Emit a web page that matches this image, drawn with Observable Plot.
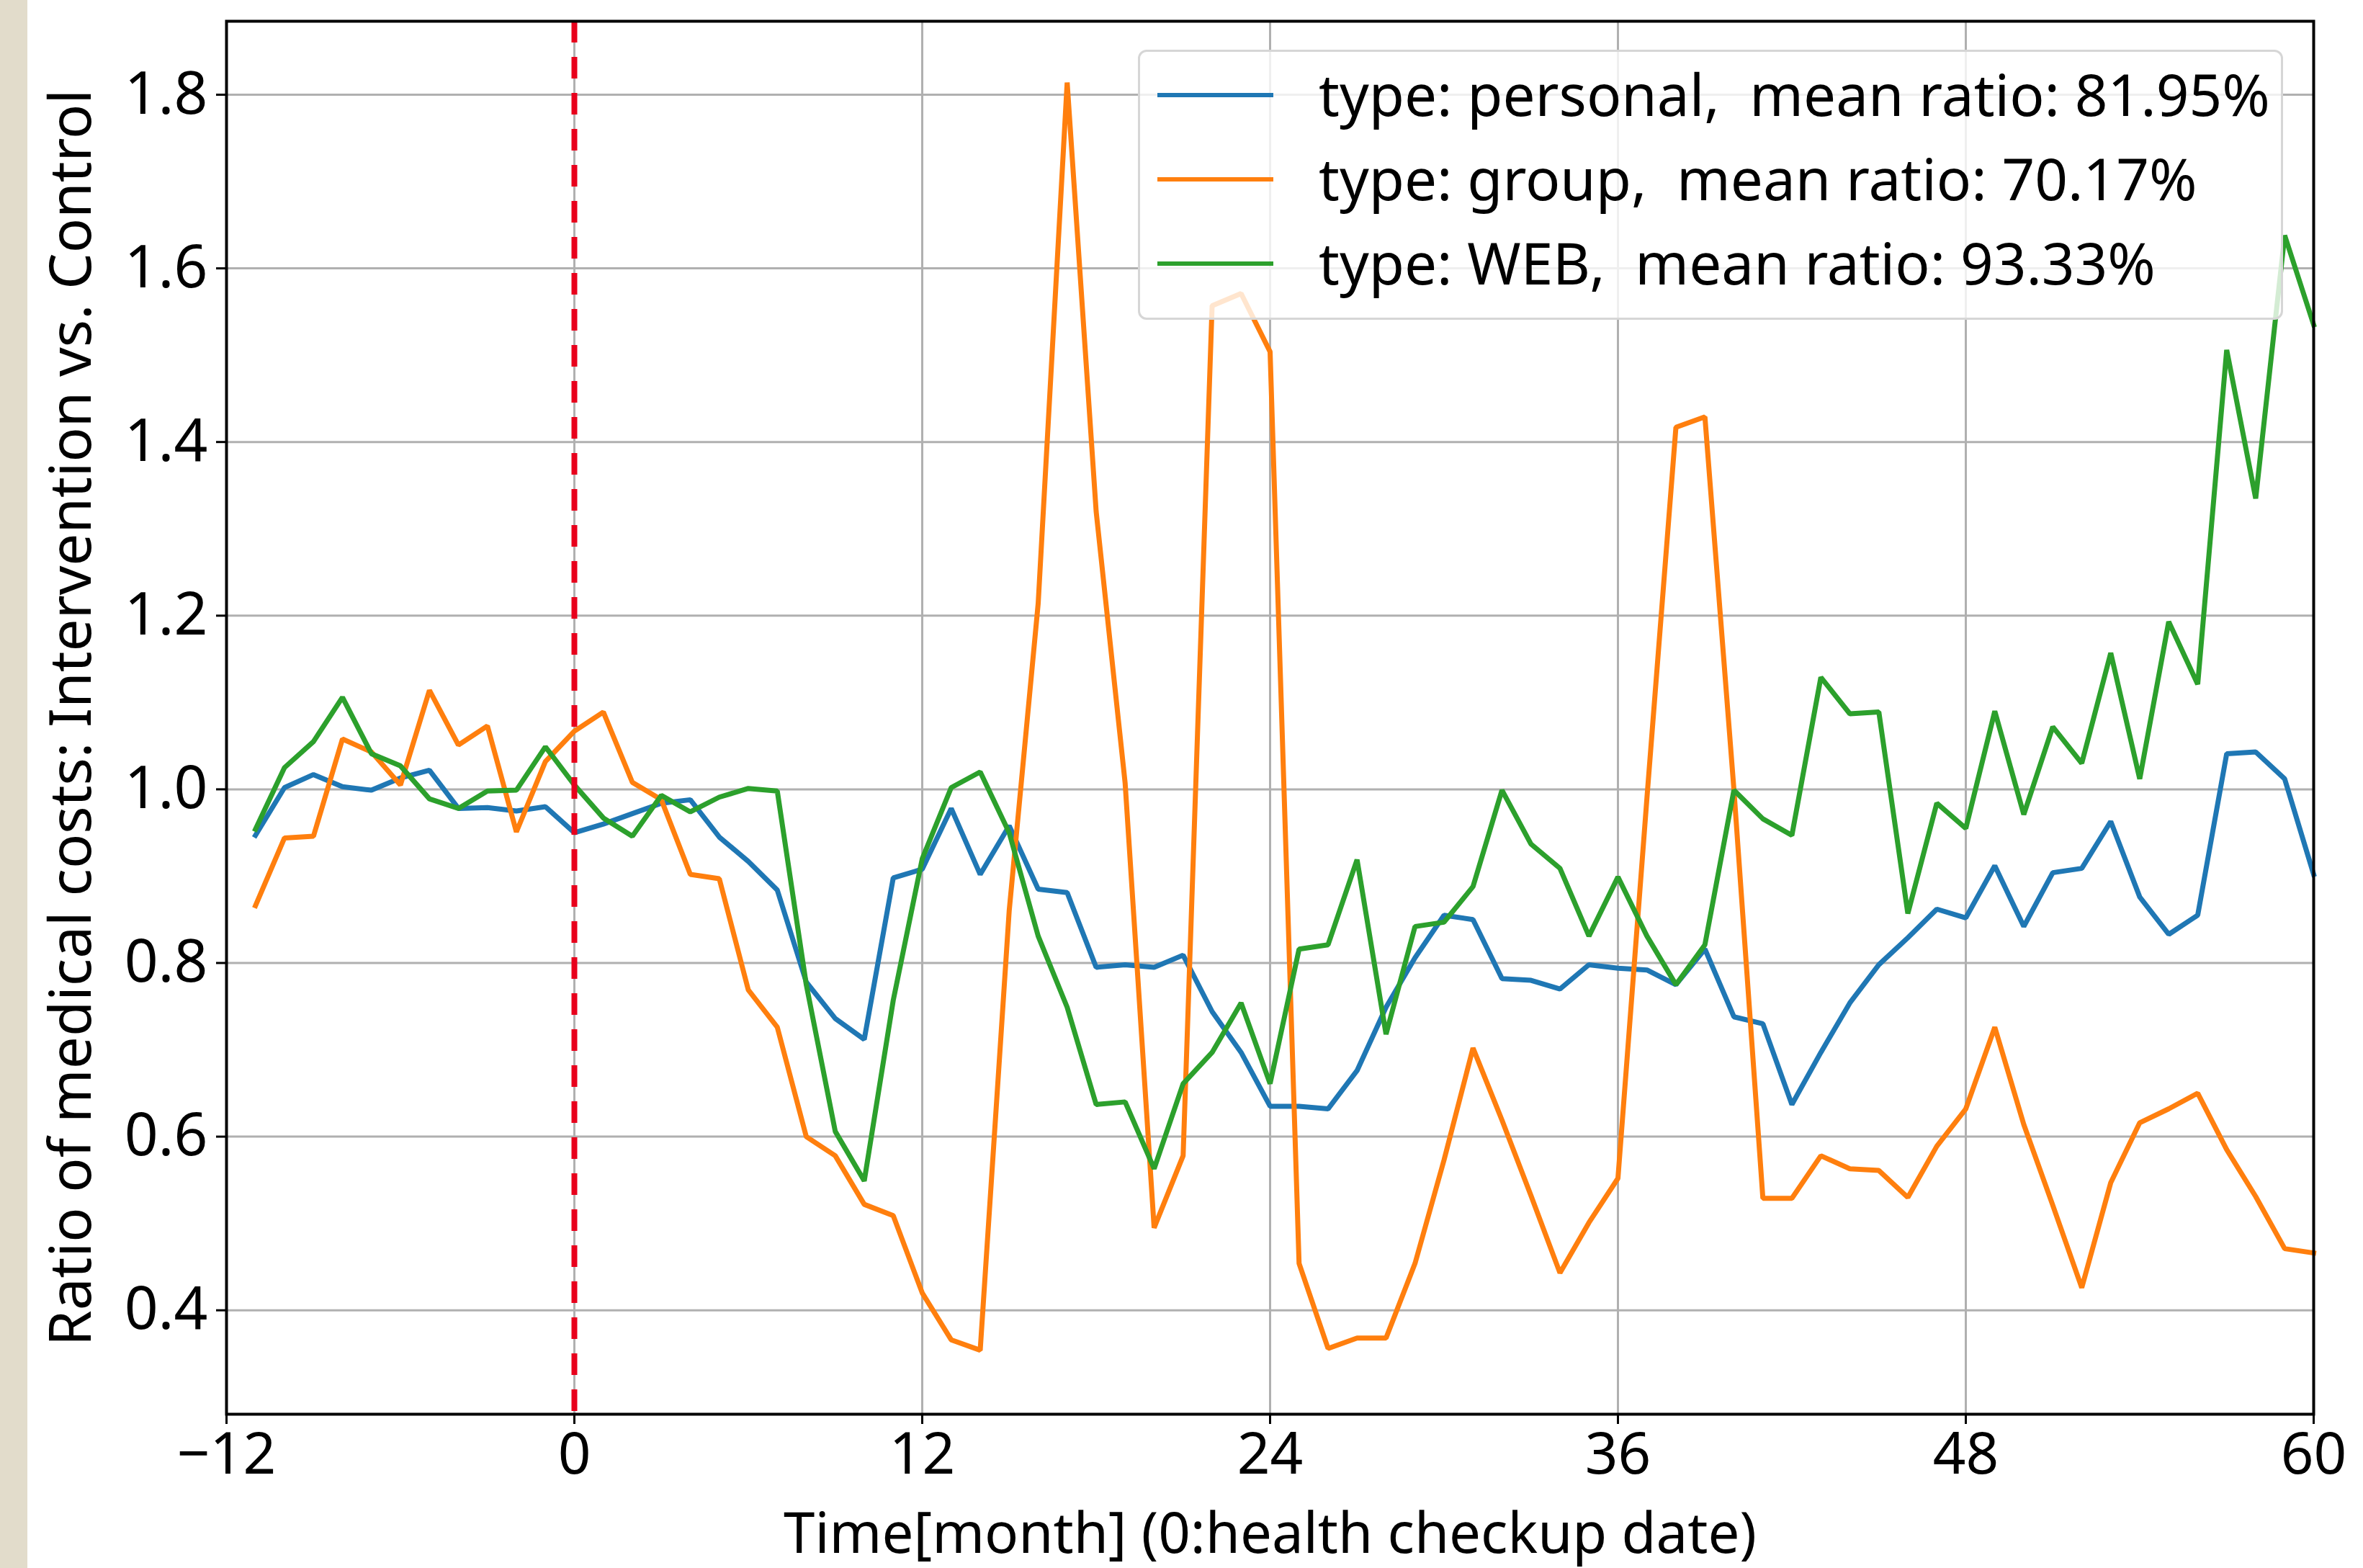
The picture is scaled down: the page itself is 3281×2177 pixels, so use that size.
<!DOCTYPE html>
<html>
<head>
<meta charset="utf-8">
<script src="https://cdn.jsdelivr.net/npm/d3@7"></script>
<script src="https://cdn.jsdelivr.net/npm/@observablehq/plot@0.6"></script>
<style>
  html, body { margin: 0; padding: 0; background: #ffffff; }
  #wrap { position: relative; width: 3281px; height: 2177px; overflow: hidden; font-family: "Noto Sans", sans-serif; }
  #strip { position: absolute; left: 0; top: 0; width: 38px; height: 2177px; background: #e2dccb; }
  #chart { position: absolute; left: 0; top: 0; }
  #legend { position: absolute; left: 1580px; top: 69px; width: 1590px; height: 375px; box-sizing: border-box;
            border: 3px solid #d6d6d6; border-radius: 12px; background: rgba(255,255,255,0.8); }
  .sw { position: absolute; left: 24px; width: 161px; height: 6px; }
  .lt { position: absolute; left: 248px; font-size: 80px; line-height: 1; white-space: pre; color: #000; transform: translateY(-52%); }
</style>
</head>
<body>
<div id="wrap">
  <div id="strip"></div>
  <div id="chart"></div>
  <div id="legend"></div>
</div>
<script>
// ---- data ----
const months = [-11,-10,-9,-8,-7,-6,-5,-4,-3,-2,-1,0,1,2,3,4,5,6,7,8,9,10,11,12,13,14,15,16,17,18,19,20,21,22,23,24,25,26,27,28,29,30,31,32,33,34,35,36,37,38,39,40,41,42,43,44,45,46,47,48,49,50,51,52,53,54,55,56,57,58,59,60];

const personal = [0.947,1.002,1.017,1.003,0.999,1.013,1.022,0.978,0.979,0.975,0.980,
  0.950,0.960,0.972,0.984,0.988,0.945,0.917,0.884,0.778,0.736,0.712,0.898,
  0.908,0.978,0.902,0.958,0.885,0.881,0.795,0.798,0.795,0.809,0.744,0.697,
  0.635,0.635,0.632,0.676,0.749,0.806,0.855,0.850,0.782,0.780,0.770,0.798,
  0.794,0.792,0.775,0.816,0.738,0.730,0.637,0.697,0.754,0.798,0.829,0.862,
  0.852,0.912,0.842,0.904,0.909,0.963,0.876,0.833,0.855,1.041,1.043,1.012,0.902];

const group = [0.866,0.944,0.946,1.058,1.043,1.005,1.114,1.051,1.073,0.951,1.032,
  1.067,1.089,1.008,0.988,0.902,0.897,0.769,0.726,0.600,0.578,0.522,0.509,
  0.420,0.366,0.354,0.860,1.214,1.814,1.320,1.007,0.495,0.578,1.557,1.571,
  1.504,0.454,0.356,0.368,0.368,0.454,0.573,0.702,0.619,0.532,0.443,0.501,
  0.552,0.990,1.417,1.429,1.000,0.529,0.529,0.578,0.563,0.561,0.530,0.589,
  0.632,0.726,0.614,0.521,0.426,0.547,0.616,0.632,0.650,0.585,0.531,0.471,0.466];

const web = [0.954,1.025,1.055,1.106,1.041,1.027,0.989,0.978,0.998,0.999,1.049,
  1.005,0.967,0.946,0.993,0.974,0.991,1.001,0.998,0.775,0.606,0.549,0.757,
  0.920,1.002,1.020,0.950,0.831,0.749,0.637,0.640,0.563,0.661,0.697,0.754,
  0.661,0.816,0.821,0.919,0.718,0.842,0.847,0.888,0.999,0.937,0.909,0.831,
  0.899,0.831,0.775,0.821,0.999,0.966,0.947,1.129,1.087,1.089,0.857,0.984,
  0.955,1.090,0.971,1.072,1.030,1.157,1.012,1.193,1.121,1.506,1.335,1.638,1.535];

const types = ["personal", "group", "WEB"];
const meanRatios = ["81.95%", "70.17%", "93.33%"];
const seriesColors = ["#1f77b4", "#ff7f0e", "#2ca02c"];
const xTicks = [-12, 0, 12, 24, 36, 48, 60];
const yTicks = [0.4, 0.6, 0.8, 1.0, 1.2, 1.4, 1.6, 1.8];
const checkupMonth = [0];
const xLabel = "Time[month] (0:health checkup date)";
const yLabel = "Ratio of medical costs: Intervention vs. Control";

// ---- table built from arrays ----
const seriesValues = [personal, group, web];
const rows = [];
types.forEach((t, i) => months.forEach((m, j) => rows.push({type: t, month: m, value: seriesValues[i][j]})));

const chart = Plot.plot({
  width: 3281,
  height: 2177,
  marginLeft: 314,
  marginRight: 69,
  marginTop: 29,
  marginBottom: 214,
  style: {fontFamily: "'Noto Sans', sans-serif", fontSize: "80px", background: "transparent", color: "#000", overflow: "visible"},
  x: {domain: [-12, 60]},
  y: {domain: [0.2803, 1.8846]},
  color: {domain: types, range: seriesColors},
  marks: [
    Plot.gridX(xTicks, {stroke: "#b0b0b0", strokeOpacity: 1, strokeWidth: 3}),
    Plot.gridY(yTicks, {stroke: "#b0b0b0", strokeOpacity: 1, strokeWidth: 3}),
    Plot.line(rows, {x: "month", y: "value", z: "type", stroke: "type", strokeWidth: 7, strokeLinejoin: "miter", strokeLinecap: "square"}),
    Plot.ruleX(checkupMonth, {stroke: "#e8001c", strokeWidth: 8, strokeDasharray: "30,20"}),
    Plot.axisX({ticks: xTicks, tickSize: 14, tickPadding: 12, fontSize: 80, strokeWidth: 3, label: null}),
    Plot.axisY({ticks: yTicks, tickFormat: d3.format(".1f"), tickSize: 14, tickPadding: 12, fontSize: 82, strokeWidth: 3, label: null}),
    Plot.frame({stroke: "#000", strokeWidth: 4}),
    Plot.text([xLabel], {text: d => d, frameAnchor: "bottom", dy: 192, fontSize: 78, fill: "#000"}),
    Plot.text([yLabel], {text: d => d, frameAnchor: "left", textAnchor: "middle", dx: -214, rotate: -90, fontSize: 80, fill: "#000"})
  ]
});
document.getElementById("chart").appendChild(chart);

// ---- legend (overlay, drawn above lines like the reference) ----
const legend = document.getElementById("legend");
const rowY = [60, 177, 294];
types.forEach((t, i) => {
  const sw = document.createElement("div");
  sw.className = "sw";
  sw.style.top = (rowY[i] - 3) + "px";
  sw.style.background = seriesColors[i];
  legend.appendChild(sw);
  const lt = document.createElement("div");
  lt.className = "lt";
  lt.style.top = rowY[i] + "px";
  lt.textContent = `type: ${t},  mean ratio: ${meanRatios[i]}`;
  legend.appendChild(lt);
});
</script>
</body>
</html>
